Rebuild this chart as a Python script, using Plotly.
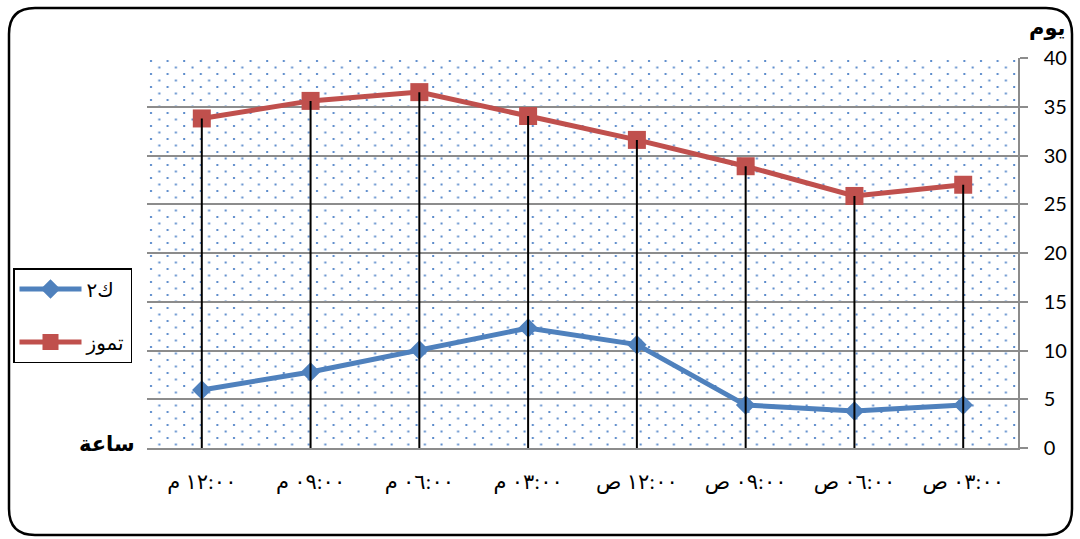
import base64
import plotly.graph_objects as go

# ---------------- data ----------------
hours = ["٠٣:٠٠ ص", "٠٦:٠٠ ص", "٠٩:٠٠ ص", "١٢:٠٠ ص",
         "٠٣:٠٠ م", "٠٦:٠٠ م", "٠٩:٠٠ م", "١٢:٠٠ م"]
jan_values = [4.4, 3.8, 4.4, 10.6, 12.3, 10.05, 7.8, 5.95]     # ك٢
jul_values = [27.0, 25.85, 28.9, 31.6, 34.05, 36.5, 35.6, 33.8]  # تموز
series_names = ["ك٢", "تموز"]
y_ticks = [0, 5, 10, 15, 20, 25, 30, 35, 40]

W, H = 1080, 539
L, R, T, B = 147, 62, 58, 91
PW, PH = W - L - R, H - T - B

BLUE = "#4F81BD"
RED = "#C0504D"
GRID = "#8c8c8c"
ARABIC_FONT = "Times New Roman, DejaVu Sans"


def px(x):
    return (x - L) / PW


def py(y):
    return (H - B - y) / PH


# dotted background pattern as an SVG image
svg = f'''<svg xmlns="http://www.w3.org/2000/svg" width="{PW}" height="{PH}" viewBox="0 0 {PW} {PH}">
<defs><pattern id="p" width="16.6" height="13" patternUnits="userSpaceOnUse">
<rect x="3" y="2" width="2" height="2" fill="#5B8BCB"/>
<rect x="11.3" y="8.5" width="2" height="2" fill="#5B8BCB"/>
</pattern></defs>
<rect width="100%" height="100%" fill="white"/>
<rect width="100%" height="100%" fill="url(#p)"/>
</svg>'''
svg_uri = "data:image/svg+xml;base64," + base64.b64encode(svg.encode()).decode()

fig = go.Figure()

fig.add_trace(go.Scatter(
    x=hours, y=jan_values, name=series_names[0], mode="lines+markers",
    line=dict(color=BLUE, width=5),
    marker=dict(symbol="diamond", size=15, color=BLUE),
    legendgroup="a",
))
fig.add_trace(go.Scatter(
    x=hours, y=jul_values, name=series_names[1], mode="lines+markers",
    line=dict(color=RED, width=5),
    marker=dict(symbol="square", size=18, color=RED),
    legendgroup="b",
))
# drop lines from the July series to the axis
fig.add_trace(go.Scatter(
    x=hours, y=jul_values, mode="markers", showlegend=False, hoverinfo="skip",
    marker=dict(size=1, color="rgba(0,0,0,0)"),
    error_y=dict(type="data", symmetric=False, array=[0] * len(jul_values),
                 arrayminus=jul_values, color="black", thickness=2, width=0),
    legendgroup="c",
))

# rounded outer border
x0, x1, y0, y1, r = 9, 1072, 8, 535, 26
path = (
    f"M {px(x0 + r)},{py(y0)} L {px(x1 - r)},{py(y0)} "
    f"Q {px(x1)},{py(y0)} {px(x1)},{py(y0 + r)} "
    f"L {px(x1)},{py(y1 - r)} Q {px(x1)},{py(y1)} {px(x1 - r)},{py(y1)} "
    f"L {px(x0 + r)},{py(y1)} Q {px(x0)},{py(y1)} {px(x0)},{py(y1 - r)} "
    f"L {px(x0)},{py(y0 + r)} Q {px(x0)},{py(y0)} {px(x0 + r)},{py(y0)} Z"
)

fig.update_layout(
    width=W, height=H,
    margin=dict(l=L, r=R, t=T, b=B, autoexpand=False),
    paper_bgcolor="white",
    plot_bgcolor="rgba(0,0,0,0)",
    showlegend=True,
    legend=dict(
        xref="container", yref="container",
        x=13 / W, y=1 - 268 / H, xanchor="left", yanchor="top",
        bordercolor="black", borderwidth=1.5, bgcolor="white",
        font=dict(family=ARABIC_FONT, size=20, color="black"),
        tracegroupgap=24, traceorder="grouped",
        itemwidth=62,
    ),
    xaxis=dict(
        type="category", categoryorder="array", categoryarray=hours,
        autorange="reversed",
        showgrid=False, showline=True, linecolor=GRID, linewidth=2,
        ticks="", zeroline=False,
        tickfont=dict(family=ARABIC_FONT, size=21, color="black"),
        ticklabelstandoff=14,
    ),
    yaxis=dict(
        side="right", range=[0, 40], tickvals=y_ticks,
        showgrid=True, gridcolor=GRID, gridwidth=1.5,
        showline=True, linecolor=GRID, linewidth=1.5,
        ticks="outside", ticklen=8, tickcolor=GRID, tickwidth=1.5,
        zeroline=False,
        tickfont=dict(family="Lato, Carlito, Liberation Sans", size=20, color="black"),
        ticklabelstandoff=12,
    ),
    images=[dict(
        source=svg_uri, xref="paper", yref="paper", x=0, y=1,
        sizex=1, sizey=1, sizing="stretch", xanchor="left", yanchor="top",
        layer="below",
    )],
    shapes=[dict(type="path", path=path, xref="paper", yref="paper",
                 line=dict(color="black", width=2.5), layer="above")],
    annotations=[
        dict(text="<b>يوم</b>", xref="paper", yref="paper", x=px(1047), y=py(28),
             xanchor="center", yanchor="middle",
             showarrow=False, font=dict(family=ARABIC_FONT, size=21, color="black")),
        dict(text="<b>ساعة</b>", xref="paper", yref="paper", x=px(107), y=py(444),
             xanchor="center", yanchor="middle",
             showarrow=False, font=dict(family=ARABIC_FONT, size=21, color="black")),
    ],
)

fig.write_html("out.html")
